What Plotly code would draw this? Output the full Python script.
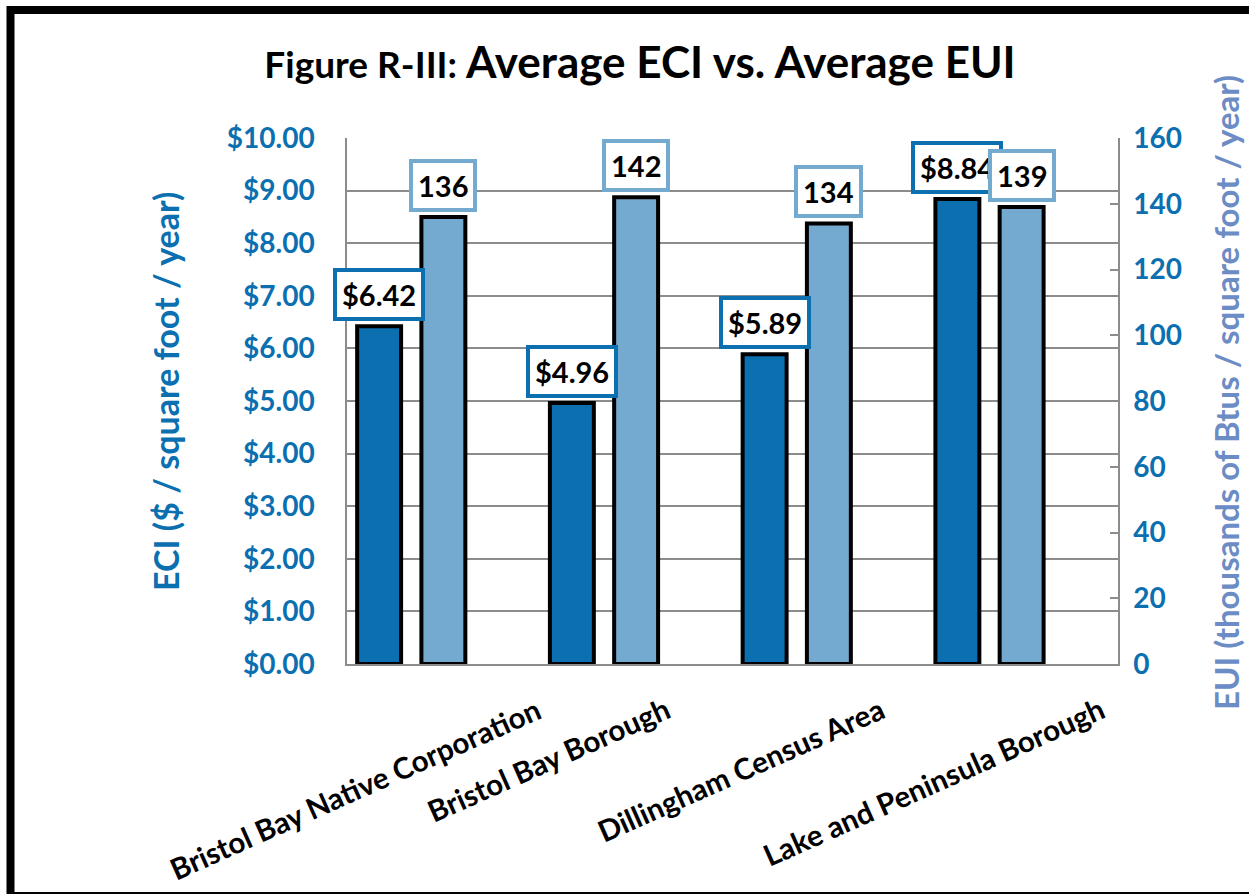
import plotly.graph_objects as go

categories = ["Bristol Bay Native Corporation", "Bristol Bay Borough",
              "Dillingham Census Area", "Lake and Peninsula Borough"]
eci_values = [6.42, 4.96, 5.89, 8.84]
eui_values = [136, 142, 134, 139]
eci_ticks = [0, 1, 2, 3, 4, 5, 6, 7, 8, 9, 10]
eui_ticks = [0, 20, 40, 60, 80, 100, 120, 140, 160]

DARK = "#0b6fb0"
LIGHT = "#74a9d0"
AXIS_BLUE = "#0b6fb0"
RIGHT_TITLE = "#6b8cc4"
GRID = "#8c8c8c"
FONT = "Lato"

W, H = 1249, 894
ML, MR, MT, MB = 347, 131, 138, 230
PW = W - ML - MR
PH = H - MT - MB

bw = 0.228
eci_off = -1 / 3

fig = go.Figure()
fig.add_trace(go.Bar(
    x=categories, y=eci_values, yaxis="y", name="ECI",
    offset=eci_off - bw / 2, width=bw,
    marker=dict(color=DARK, line=dict(color="black", width=4)),
))
fig.add_trace(go.Bar(
    x=categories, y=eui_values, yaxis="y2", name="EUI",
    offset=-bw / 2, width=bw,
    marker=dict(color=LIGHT, line=dict(color="black", width=4)),
))

annotations = []
# data labels
for i, v in enumerate(eci_values):
    annotations.append(dict(
        x=i + eci_off, y=v, xref="x", yref="y", text=f"${v:.2f}",
        showarrow=False, yanchor="bottom", xanchor="center", yshift=5,
        font=dict(family=FONT, size=29, color="black", weight="bold"),
        bgcolor="white", bordercolor=DARK, borderwidth=4, borderpad=5,
    ))
for i, v in enumerate(eui_values):
    annotations.append(dict(
        x=i, y=v, xref="x", yref="y2", text=f"{v}",
        showarrow=False, yanchor="bottom", xanchor="center", yshift=5,
        font=dict(family=FONT, size=29, color="black", weight="bold"),
        bgcolor="white", bordercolor=LIGHT, borderwidth=4, borderpad=5,
    ))
# category labels (rotated)
for i, c in enumerate(categories):
    annotations.append(dict(
        x=i, y=(664 - 688) / PH, xref="x", yref="paper", text=c,
        showarrow=False, textangle=-24, xanchor="center", yanchor="top",
        xshift=-88,
        font=dict(family=FONT, size=29.5, color="black", weight="bold"),
    ))
# axis titles
annotations.append(dict(
    x=(165 - ML) / PW, y=(664 - 392) / PH, xref="paper", yref="paper",
    text="ECI ($ / square foot / year)", showarrow=False, textangle=-90,
    xanchor="center", yanchor="middle",
    font=dict(family=FONT, size=34, color=AXIS_BLUE, weight="bold"),
))
annotations.append(dict(
    x=(1226 - ML) / PW, y=(664 - 393) / PH, xref="paper", yref="paper",
    text="EUI (thousands of Btus / square foot / year)", showarrow=False,
    textangle=-90, xanchor="center", yanchor="middle",
    font=dict(family=FONT, size=33, color=RIGHT_TITLE, weight="bold"),
))

fig.update_layout(
    width=W, height=H,
    margin=dict(l=ML, r=MR, t=MT, b=MB, pad=0),
    paper_bgcolor="white", plot_bgcolor="white",
    showlegend=False, barmode="overlay",
    title=dict(
        text="<span style='font-size:37px'>Figure R-III: </span>Average ECI vs. Average EUI",
        x=640 / W, xref="container", xanchor="center",
        y=1 - 63 / H, yref="container", yanchor="middle",
        font=dict(family=FONT, size=44, color="black", weight="bold"),
    ),
    xaxis=dict(
        type="category", range=[-0.5, 3.5], showticklabels=False,
        showline=True, linecolor=GRID, linewidth=1.5, showgrid=False,
        zeroline=False, ticks="",
    ),
    yaxis=dict(
        range=[0, 10], tickvals=eci_ticks, tickformat="$.2f",
        showgrid=True, gridcolor=GRID, gridwidth=1.5,
        showline=True, linecolor=GRID, linewidth=1.5, zeroline=False,
        ticks="", ticklabelstandoff=25,
        tickfont=dict(family=FONT, size=28, color=AXIS_BLUE, weight="bold"),
    ),
    yaxis2=dict(
        range=[0, 160], tickvals=eui_ticks, overlaying="y", side="right",
        showgrid=False, showline=True, linecolor=GRID, linewidth=1.5,
        zeroline=False, ticks="inside", ticklen=8, tickcolor=GRID, tickwidth=1.5,
        ticklabelstandoff=8,
        tickfont=dict(family=FONT, size=28, color=AXIS_BLUE, weight="bold"),
    ),
    annotations=annotations,
    shapes=[dict(
        type="rect", xref="paper", yref="paper",
        x0=(10.5 - ML) / PW, x1=(1254 - ML) / PW,
        y0=(664 - 896) / PH, y1=(664 - 10) / PH,
        line=dict(color="black", width=8), fillcolor="rgba(0,0,0,0)",
        layer="above",
    )],
)

fig.write_html("out.html")
